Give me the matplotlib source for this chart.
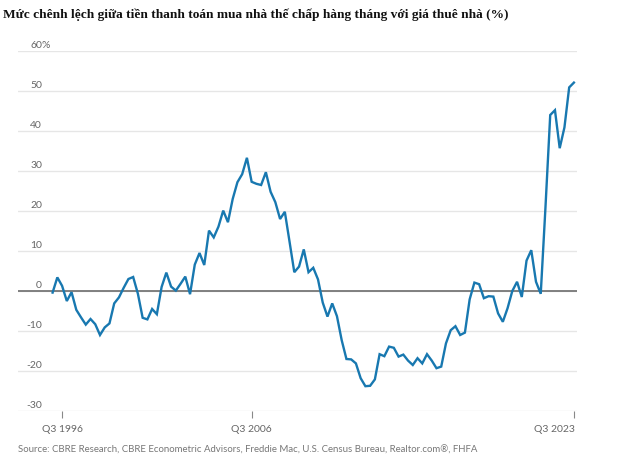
import numpy as np
import matplotlib
matplotlib.use("Agg")
import matplotlib.pyplot as plt

# quarterly values, Q1 1996 .. Q3 2023
values = [
    -0.4, 3.4, 1.3, -2.5, -0.3, -4.7, -6.6, -8.4, -7.0, -8.3,
    -11.0, -9.1, -8.1, -3.1, -1.6, 0.8, 3.0, 3.5, -0.7, -6.7,
    -7.1, -4.5, -5.8, 1.0, 4.6, 1.1, 0.1, 1.8, 3.6, -0.8,
    6.6, 9.5, 6.5, 15.1, 13.4, 16.1, 20.1, 17.2, 23.0, 27.2,
    29.2, 33.3, 27.3, 26.8, 26.5, 29.7, 24.8, 22.2, 18.0, 19.8,
    12.3, 4.7, 6.1, 10.4, 4.7, 5.8, 2.9, -2.9, -6.4, -3.1,
    -6.3, -12.3, -17.0, -17.1, -18.1, -21.8, -23.8, -23.7, -22.1, -15.8,
    -16.3, -13.9, -14.2, -16.4, -15.9, -17.4, -18.5, -16.8, -18.1, -15.8,
    -17.4, -19.3, -18.9, -13.1, -9.8, -8.8, -11.0, -10.4, -2.1, 2.1,
    1.7, -1.8, -1.3, -1.4, -5.6, -7.7, -4.3, 0.0, 2.3, -1.5,
    7.6, 10.2, 2.3, -0.7, 21.0, 44.0, 45.2, 35.7, 40.9, 50.9,
    52.1,
]
x_ticks = [2, 42, 110]
x_labels = ["Q3 1996", "Q3 2006", "Q3 2023"]
y_ticks = [-30, -20, -10, 0, 10, 20, 30, 40, 50, 60]

title = "Mức chênh lệch giữa tiền thanh toán mua nhà thế chấp hàng tháng với giá thuê nhà (%)"
source = "Source: CBRE Research, CBRE Econometric Advisors, Freddie Mac, U.S. Census Bureau, Realtor.com®, FHFA"

W, H = 618, 472
fig = plt.figure(figsize=(W / 100, H / 100), dpi=100)
ax = fig.add_axes([18 / W, 61 / H, 559 / W, 360 / H])

x = np.arange(len(values))
ax.set_xlim(-7.3, 110.65)
ax.set_ylim(-30, 60)

for v in y_ticks:
    ax.axhline(v, color="#e6e6e6", lw=1.0, zorder=1)
ax.axhline(0, color="#777777", lw=1.3, zorder=2)

ax.plot(x, values, color="#1878b0", lw=1.7, zorder=3, solid_joinstyle="miter")

for s in ax.spines.values():
    s.set_visible(False)
ax.set_yticks([])
ax.set_xticks(x_ticks)
ax.set_xticklabels([])
ax.tick_params(axis="x", length=5, width=0.8, color="#888888")

tick_font = dict(family=["Lato", "DejaVu Sans"], size=7.5, color="#666666")
tr = ax.get_yaxis_transform()
for v in y_ticks:
    ax.text(24 / 559, v + 0.7, str(v), transform=tr, ha="right", va="baseline", **tick_font)
ax.text(24 / 559, 60.7, "%", transform=tr, ha="left", va="baseline", **tick_font)

xtr = ax.get_xaxis_transform()
for t, lab in zip(x_ticks, x_labels):
    ha = "right" if t == x_ticks[-1] else "center"
    ax.text(t + (0.3 if ha == "right" else 0), -0.04, lab, transform=xtr,
            ha=ha, va="top", **tick_font)

fig.text(3 / W, 1 - 15 / H, title, ha="left", va="center",
         family=["Liberation Serif", "DejaVu Serif"], weight="bold", size=9.6, color="#111111")
fig.text(18 / W, 1 - 450 / H, source, ha="left", va="center",
         family=["Lato", "DejaVu Sans"], size=6.9, color="#777777")

fig.savefig("out.png", dpi=100)
